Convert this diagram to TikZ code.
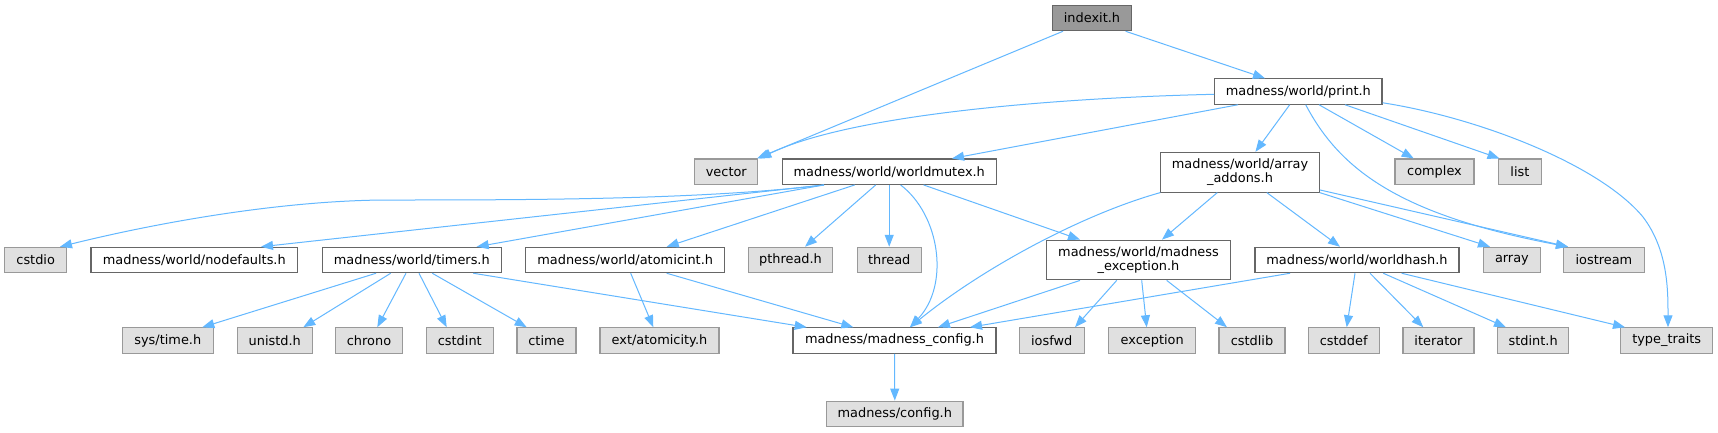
\documentclass[tikz,border=0pt]{standalone}
\usepackage{fontspec}
\newfontfamily\dvsans{DejaVu Sans}
\usetikzlibrary{arrows.meta,calc}
\definecolor{edgec}{HTML}{63B8FF}
\definecolor{gfill}{HTML}{E0E0E0}
\definecolor{gborder}{HTML}{999999}
\definecolor{wborder}{HTML}{666666}
\definecolor{rootfill}{HTML}{999999}
\tikzset{
  basebox/.style={rectangle, inner sep=0pt, minimum height=25.4pt, line width=1.1pt,
    font={\dvsans\fontsize{12.9}{14.4}\selectfont}, text=black},
  gbox/.style={basebox, fill=gfill, draw=gborder},
  wbox/.style={basebox, fill=white, draw=wborder},
  rbox/.style={basebox, fill=rootfill, draw=wborder},
  twoline/.style={minimum height=39.7pt, align=center},
  dep/.style={draw=edgec, line width=1pt, -{Triangle[length=12pt,width=9pt]}},
}
\begin{document}
\begin{tikzpicture}[x=1pt,y=-1pt]
\useasboundingbox[fill=white] (0,0) rectangle (1718,432);
% row 1-3
\node[rbox,minimum width=79pt] (idx) at (1092,18) {indexit.h};
\node[wbox,minimum width=167.4pt] (prt) at (1298.3,91.5) {madness/world/print.h};
\node[gbox,minimum width=63.2pt] (vec) at (726.3,171.7) {vector};
\node[wbox,minimum width=214.3pt] (wmx) at (889.2,171.7) {madness/world/worldmutex.h};
\node[wbox,twoline,minimum width=158.3pt] (arr) at (1240,172.2) {madness/world/array\\\_addons.h};
\node[gbox,minimum width=79pt] (cpx) at (1434.5,171.7) {complex};
\node[gbox,minimum width=43.1pt] (lst) at (1519.9,171.7) {list};
% row 4
\node[gbox,minimum width=62pt] (cst) at (35.7,260) {cstdio};
\node[wbox,minimum width=206.7pt] (ndf) at (194.3,260) {madness/world/nodefaults.h};
\node[wbox,minimum width=179pt] (tim) at (411.8,260) {madness/world/timers.h};
\node[wbox,minimum width=199pt] (ato) at (625.2,260) {madness/world/atomicint.h};
\node[gbox,minimum width=83.6pt] (pth) at (790.5,260) {pthread.h};
\node[gbox,minimum width=64.3pt] (thr) at (889.2,260) {thread};
\node[wbox,twoline,minimum width=184.4pt] (mex) at (1138.5,260) {madness/world/madness\\\_exception.h};
\node[wbox,minimum width=204pt] (wha) at (1357,260) {madness/world/worldhash.h};
\node[gbox,minimum width=56.3pt] (ary) at (1511.9,260) {array};
\node[gbox,minimum width=80.3pt] (ios) at (1603.9,260) {iostream};
% row 5
\node[gbox,minimum width=91pt] (sys) at (167.8,340.5) {sys/time.h};
\node[gbox,minimum width=75pt] (uni) at (274.8,340.5) {unistd.h};
\node[gbox,minimum width=66.6pt] (chr) at (369,340.5) {chrono};
\node[gbox,minimum width=67pt] (cin) at (459.8,340.5) {cstdint};
\node[gbox,minimum width=59pt] (cti) at (546.5,340.5) {ctime};
\node[gbox,minimum width=119pt] (ext) at (659.5,340.5) {ext/atomicity.h};
\node[wbox,minimum width=203pt] (mcf) at (894.5,340.5) {madness/madness\_config.h};
\node[gbox,minimum width=64.7pt] (iof) at (1051.7,340.5) {iosfwd};
\node[gbox,minimum width=87pt] (exc) at (1152.2,340.5) {exception};
\node[gbox,minimum width=66pt] (csl) at (1252,340.5) {cstdlib};
\node[gbox,minimum width=71.3pt] (csd) at (1343.7,340.5) {cstddef};
\node[gbox,minimum width=71pt] (itr) at (1438.5,340.5) {iterator};
\node[gbox,minimum width=71pt] (sti) at (1533.2,340.5) {stdint.h};
\node[gbox,minimum width=92pt] (ttr) at (1666.7,340.5) {type\_traits};
% row 6
\node[gbox,minimum width=136.3pt] (cfg) at (894.8,413.8) {madness/config.h};

% edges from indexit.h
\draw[dep] ([xshift=-29pt]idx.south) -- ([xshift=30.7pt]vec.north);
\draw[dep] ([xshift=33.6pt]idx.south) -- ([xshift=-33.3pt]prt.north);
% edges from print.h
\draw[dep] ([yshift=-2.8pt]prt.west) .. controls (1050,98) and (850,115) .. ([xshift=33pt]vec.north);
\draw[dep] ([xshift=-60.3pt]prt.south) -- ([xshift=62.8pt]wmx.north);
\draw[dep] ([xshift=-8.6pt]prt.south) -- ([xshift=15.4pt]arr.north);
\draw[dep] ([xshift=7.4pt]prt.south) .. controls (1340,170) and (1400,215) .. ([xshift=-35.9pt]ios.north);
\draw[dep] ([xshift=20.7pt]prt.south) -- ([xshift=-20.8pt]cpx.north);
\draw[dep] ([xshift=46.7pt]prt.south) -- ([xshift=-20.4pt]lst.north);
\draw[dep] ([yshift=2pt]prt.south east) .. controls (1480,118) and (1600,165) .. (1643,217)
  .. controls (1668,250) and (1668,290) .. ([xshift=1.3pt]ttr.north);
% edges from worldmutex.h
\draw[dep] ([xshift=-65.2pt]wmx.south) .. controls (700,200) and (520,200) .. (383,200)
  .. controls (280,201) and (160,222) .. ([xshift=24.3pt]cst.north);
\draw[dep] ([xshift=-65.2pt]wmx.south) -- ([xshift=66.7pt]ndf.north);
\draw[dep] ([xshift=-65.2pt]wmx.south) -- ([xshift=64.9pt]tim.north);
\draw[dep] ([xshift=-34.5pt]wmx.south) -- ([xshift=41.5pt]ato.north);
\draw[dep] ([xshift=-13.5pt]wmx.south) -- ([xshift=14.5pt]pth.north);
\draw[dep] (wmx.south) -- (thr.north);
\draw[dep] ([xshift=11.4pt]wmx.south) .. controls (940,215) and (950,285) .. ([xshift=15.5pt]mcf.north);
\draw[dep] ([xshift=34.4pt]wmx.south) -- ([xshift=-58.5pt]mex.north);
% edges from timers.h
\draw[dep] ([xshift=-35.8pt]tim.south) -- ([xshift=34.5pt]sys.north);
\draw[dep] ([xshift=-21.1pt]tim.south) -- ([xshift=28.5pt]uni.north);
\draw[dep] ([xshift=-5.8pt]tim.south) -- ([xshift=8.3pt]chr.north);
\draw[dep] ([xshift=7.2pt]tim.south) -- ([xshift=-13.1pt]cin.north);
\draw[dep] ([xshift=20.5pt]tim.south) -- ([xshift=-19.8pt]cti.north);
\draw[dep] ([xshift=61.5pt]tim.south) -- ([xshift=-87.8pt]mcf.north);
% edges from atomicint.h
\draw[dep] ([xshift=5.5pt]ato.south) -- ([xshift=-6.2pt]ext.north);
\draw[dep] ([xshift=41.5pt]ato.south) -- ([xshift=-41.2pt]mcf.north);
% edges from array_addons.h
\draw[dep] (arr.south west) .. controls (1080,215) and (980,270) .. ([xshift=15.5pt]mcf.north);
\draw[dep] ([xshift=-22.7pt]arr.south) -- ([xshift=23.5pt]mex.north);
\draw[dep] ([xshift=26.8pt]arr.south) -- ([xshift=-17pt]wha.north);
\draw[dep] (arr.south east) -- ([xshift=-21.9pt]ary.north);
\draw[dep] ([yshift=2.7pt]arr.south east) -- ([xshift=-35.9pt]ios.north);
% edges from madness_exception.h
\draw[dep] ([xshift=-58.5pt]mex.south) -- ([xshift=43.5pt]mcf.north);
\draw[dep] ([xshift=-21.8pt]mex.south) -- ([xshift=23.3pt]iof.north);
\draw[dep] ([xshift=3.2pt]mex.south) -- ([xshift=-5.5pt]exc.north);
\draw[dep] ([xshift=28.2pt]mex.south) -- ([xshift=-25pt]csl.north);
% edges from worldhash.h
\draw[dep] ([xshift=-67pt]wha.south) -- ([xshift=75.5pt]mcf.north);
\draw[dep] ([xshift=-2pt]wha.south) -- ([xshift=3pt]csd.north);
\draw[dep] ([xshift=13pt]wha.south) -- ([xshift=-15.2pt]itr.north);
\draw[dep] ([xshift=26.3pt]wha.south) -- ([xshift=-27.2pt]sti.north);
\draw[dep] ([xshift=44.7pt]wha.south) -- ([xshift=-41.7pt]ttr.north);
% madness_config.h
\draw[dep] (mcf.south) -- (cfg.north);
\end{tikzpicture}
\end{document}
